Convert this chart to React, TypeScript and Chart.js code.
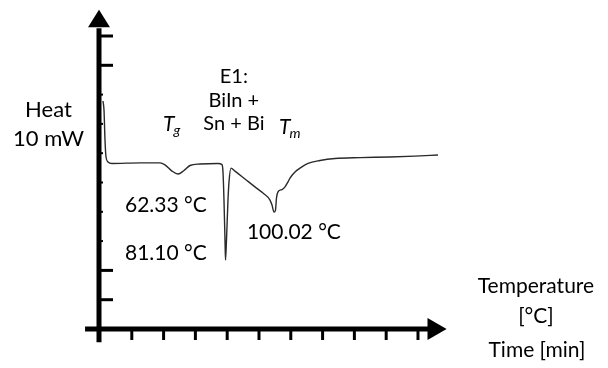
import React, { useEffect, useRef } from "react";
import { Chart, registerables } from "chart.js";

Chart.register(...registerables);

// Time axis (arbitrary units, one unit per tick)
const timeValues = [
  0.094, 0.126, 0.157, 0.189, 0.252, 0.377, 1.258, 1.887, 2.044, 2.264, 2.453, 2.642, 2.83, 3.145,
  3.711, 3.836, 3.868, 3.899, 3.931, 3.947, 3.978, 4.025, 4.057, 4.119, 4.245, 4.56, 4.874, 5.126,
  5.346, 5.409, 5.472, 5.519, 5.55, 5.597, 5.723, 5.818, 5.912, 5.975, 6.132, 6.289, 6.541, 6.918,
  7.39, 8.176, 9.119, 9.906, 10.629,
];
// Heat flow signal (arbitrary units, one unit per tick)
const heatValues = [
  7.78, 7.47, 6.45, 5.87, 5.7, 5.65, 5.67, 5.67, 5.6, 5.39, 5.29, 5.41, 5.58, 5.63,
  5.65, 5.61, 5.36, 4.4, 3.04, 2.35, 3.04, 4.4, 5.02, 5.49, 5.39, 5.12, 4.85, 4.64,
  4.4, 4.23, 3.99, 4.06, 4.47, 4.68, 4.76, 4.85, 5.02, 5.15, 5.36, 5.49, 5.65, 5.75,
  5.82, 5.85, 5.87, 5.9, 5.94,
];
const xTicks = [1, 2, 3, 4, 5, 6, 7, 8, 9, 10];
const yTicks = [1, 2, 3, 4, 5, 6, 7, 8, 9, 10];
const yMajorTicks = [1, 2, 9, 10];

const axisMax = 10.9;

// annotation texts, anchored in data units
const plainLabels = [
  { text: "Heat", x: -1.62, y: 7.24, align: "center", size: 22 },
  { text: "10 mW", x: -1.62, y: 6.25, align: "center", size: 22 },
  { text: "E1:", x: 4.21, y: 8.4, align: "center", size: 20 },
  { text: "BiIn +", x: 4.21, y: 7.58, align: "center", size: 20 },
  { text: "Sn + Bi", x: 4.21, y: 6.79, align: "center", size: 20 },
  { text: "62.33 °C", x: 0.786, y: 3.99, align: "left", size: 21 },
  { text: "81.10 °C", x: 0.786, y: 2.35, align: "left", size: 21 },
  { text: "100.02 °C", x: 4.62, y: 3.07, align: "left", size: 21 },
  { text: "Temperature", x: 13.71, y: 1.23, align: "center", size: 21 },
  { text: "[°C]", x: 13.71, y: 0.2, align: "center", size: 21 },
  { text: "Time [min]", x: 13.74, y: -0.96, align: "center", size: 21 },
];
const symbolLabels = [
  { main: "T", sub: "g", x: 1.98, y: 6.76 },
  { main: "T", sub: "m", x: 5.63, y: 6.66 },
];

const FONT = "Lato, 'Open Sans', sans-serif";

const axesPlugin = {
  id: "arrowAxes",
  afterDraw(chart: any) {
    const ctx = chart.ctx;
    const xs = chart.scales.x;
    const ys = chart.scales.y;
    const x0 = xs.getPixelForValue(0) - 1;
    const y0 = ys.getPixelForValue(0);
    ctx.save();
    ctx.fillStyle = "#000";
    ctx.strokeStyle = "#000";
    ctx.lineCap = "butt";

    // y axis
    const yTip = ys.getPixelForValue(axisMax);
    const yBase = ys.getPixelForValue(axisMax - 0.6);
    ctx.lineWidth = 5;
    ctx.beginPath();
    ctx.moveTo(x0, ys.getPixelForValue(-0.45));
    ctx.lineTo(x0, yBase + 1);
    ctx.stroke();
    ctx.beginPath();
    ctx.moveTo(x0, yTip);
    ctx.lineTo(x0 - 11, yBase);
    ctx.lineTo(x0 + 11, yBase);
    ctx.closePath();
    ctx.fill();

    // x axis
    const xTip = xs.getPixelForValue(axisMax);
    const xBase = xs.getPixelForValue(axisMax - 0.6);
    ctx.beginPath();
    ctx.moveTo(xs.getPixelForValue(-0.47), y0);
    ctx.lineTo(xBase + 1, y0);
    ctx.stroke();
    ctx.beginPath();
    ctx.moveTo(xTip, y0);
    ctx.lineTo(xBase, y0 - 11);
    ctx.lineTo(xBase, y0 + 11);
    ctx.closePath();
    ctx.fill();

    // ticks
    ctx.lineWidth = 3;
    xTicks.forEach((t) => {
      const px = xs.getPixelForValue(t);
      ctx.beginPath();
      ctx.moveTo(px, y0);
      ctx.lineTo(px, y0 + 11);
      ctx.stroke();
    });
    yTicks.forEach((t) => {
      const major = yMajorTicks.includes(t);
      const py = ys.getPixelForValue(t);
      ctx.lineWidth = major ? 3 : 2;
      ctx.beginPath();
      ctx.moveTo(x0, py);
      ctx.lineTo(x0 + (major ? 14 : 4), py);
      ctx.stroke();
    });

    // texts
    ctx.fillStyle = "#000";
    ctx.textBaseline = "alphabetic";
    plainLabels.forEach((l) => {
      ctx.font = `${l.size}px ${FONT}`;
      ctx.textAlign = l.align;
      ctx.fillText(l.text, xs.getPixelForValue(l.x), ys.getPixelForValue(l.y));
    });
    symbolLabels.forEach((l) => {
      const px = xs.getPixelForValue(l.x);
      const py = ys.getPixelForValue(l.y);
      ctx.textAlign = "left";
      ctx.font = `italic 21px ${FONT}`;
      ctx.fillText(l.main, px, py);
      const w = ctx.measureText(l.main).width;
      ctx.font = `italic 14px ${FONT}`;
      ctx.fillText(l.sub, px + w - 1, py + 4);
    });
    ctx.restore();
  },
};

export default function App() {
  const ref = useRef<HTMLCanvasElement | null>(null);
  useEffect(() => {
    if (!ref.current) return;
    const points = timeValues.map((t, i) => ({ x: t, y: heatValues[i] }));
    const chart = new Chart(ref.current, {
      type: "scatter",
      data: {
        datasets: [
          {
            data: points,
            showLine: true,
            borderColor: "#2a2a2a",
            borderWidth: 1.4,
            pointRadius: 0,
            cubicInterpolationMode: "monotone",
          },
        ],
      },
      options: {
        responsive: false,
        animation: false,
        devicePixelRatio: 1,
        layout: { padding: { left: 100, right: 161.4, top: 9.63, bottom: 39 } },
        plugins: { legend: { display: false }, tooltip: { enabled: false } },
        scales: {
          x: { type: "linear", min: 0, max: axisMax, display: false },
          y: { type: "linear", min: 0, max: axisMax, display: false },
        },
      },
      plugins: [axesPlugin],
    });
    return () => chart.destroy();
  }, []);
  return (
    <div style={{ position: "absolute", left: 0, top: 0, width: 608, height: 368, background: "#fff" }}>
      <canvas ref={ref} width={608} height={368} />
    </div>
  );
}
